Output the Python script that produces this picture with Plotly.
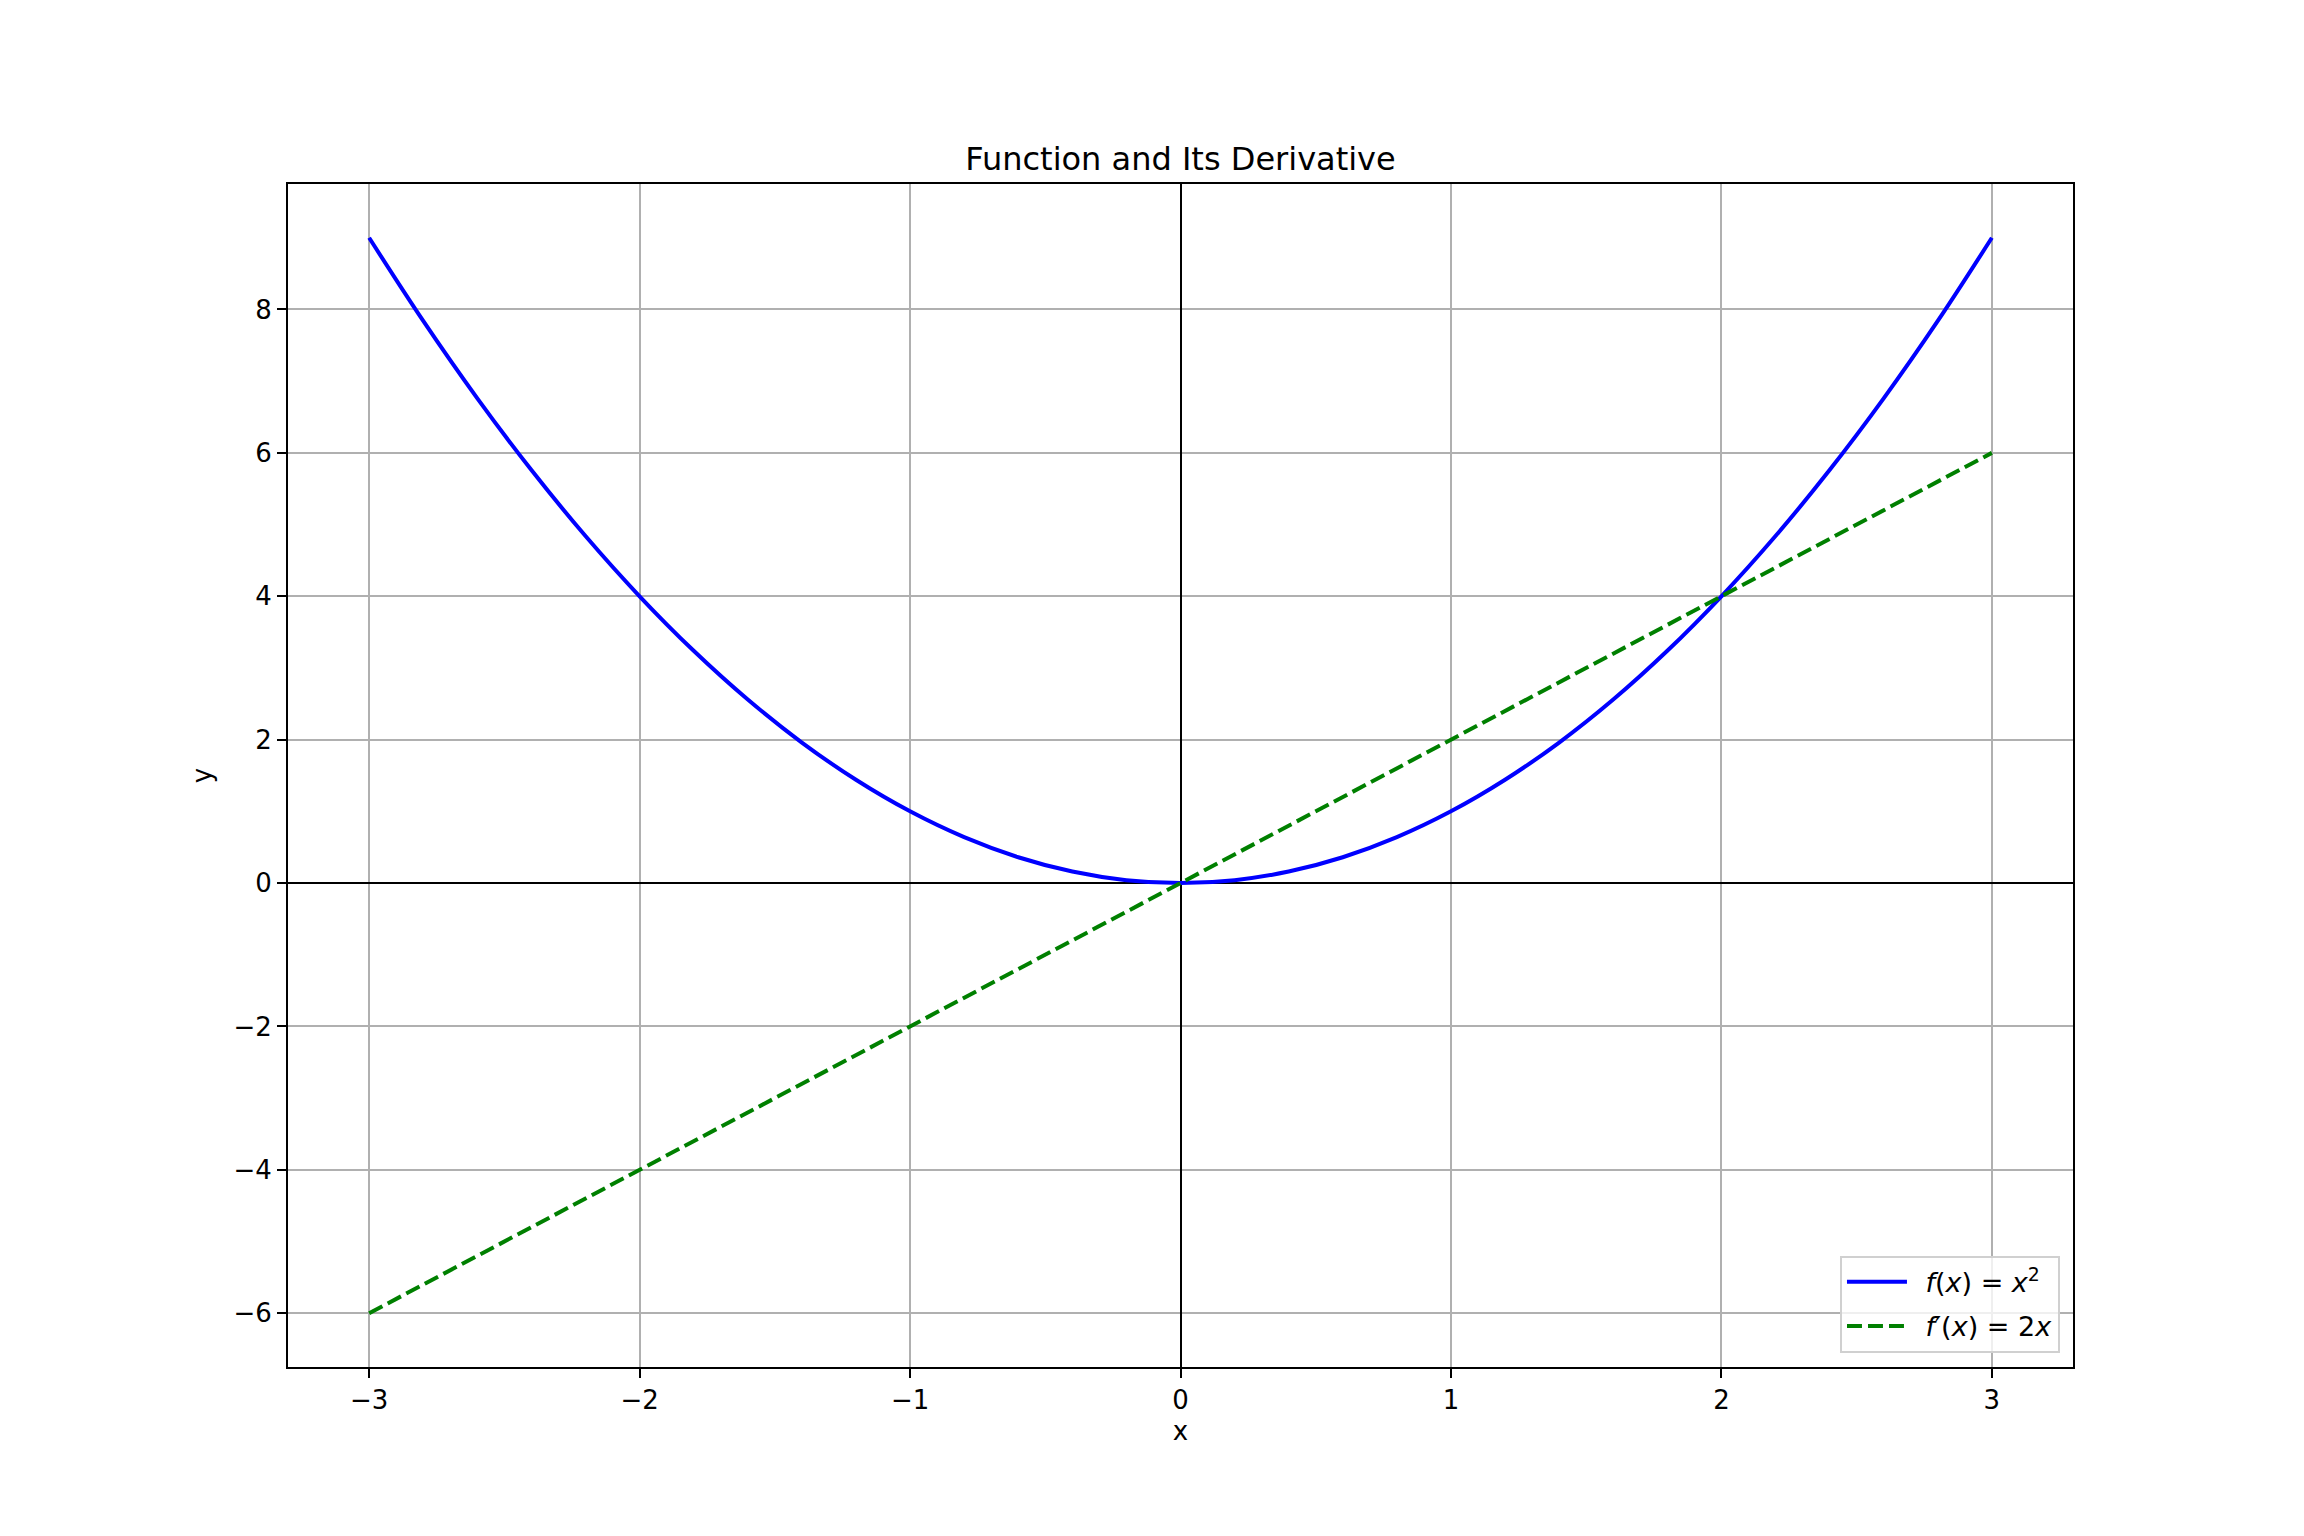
import plotly.graph_objects as go

# Values
x_curve = [-3.0, -2.8, -2.6, -2.4, -2.2, -2.0, -1.8, -1.6, -1.4, -1.2, -1.0, -0.8, -0.6, -0.4, -0.2,
           0.0, 0.2, 0.4, 0.6, 0.8, 1.0, 1.2, 1.4, 1.6, 1.8, 2.0, 2.2, 2.4, 2.6, 2.8, 3.0]
f_values = [9.0, 7.84, 6.76, 5.76, 4.84, 4.0, 3.24, 2.56, 1.96, 1.44, 1.0, 0.64, 0.36, 0.16, 0.04,
            0.0, 0.04, 0.16, 0.36, 0.64, 1.0, 1.44, 1.96, 2.56, 3.24, 4.0, 4.84, 5.76, 6.76, 7.84, 9.0]
x_line = [-3.0, 3.0]
df_values = [-6.0, 6.0]

x_ticks = [-3, -2, -1, 0, 1, 2, 3]
y_ticks = [-6, -4, -2, 0, 2, 4, 6, 8]

title_text = "Function and Its Derivative"
name_f = "\u2002<i>f</i>(<i>x</i>) = <i>x</i><sup>2</sup>"
name_df = "\u2002<i>f</i>′(<i>x</i>) = 2<i>x</i>"

FONT = "DejaVu Sans"

fig = go.Figure()
fig.add_trace(go.Scatter(x=x_curve, y=f_values, mode="lines", name=name_f, legendgroup="f",
                         line=dict(color="#0000ff", width=4, shape="spline", smoothing=1.0)))
fig.add_trace(go.Scatter(x=x_line, y=df_values, mode="lines", name=name_df, legendgroup="df",
                         line=dict(color="#008000", width=4, dash="15px,6px")))

axis_common = dict(
    showline=True, mirror=True, linecolor="black", linewidth=2,
    ticks="outside", ticklen=9, tickwidth=2, tickcolor="black",
    showgrid=True, gridcolor="#b0b0b0", gridwidth=2,
    zeroline=True, zerolinecolor="black", zerolinewidth=2,
    tickfont=dict(family=FONT, size=26, color="black"),
)

# page body has an 8px margin, so the figure is offset by 8px
fig.update_layout(
    width=2296, height=1528,
    margin=dict(l=280, r=231, t=176, b=169),
    paper_bgcolor="white", plot_bgcolor="white",
    font=dict(family=FONT, size=26, color="black"),
    title=dict(text=title_text, x=0.5, xanchor="center", xref="paper",
               y=1, yref="paper", yanchor="bottom", pad=dict(b=14),
               font=dict(family=FONT, size=32, color="black")),
    xaxis=dict(range=[-3.3, 3.3], tickvals=x_ticks,
               title=dict(text="x", font=dict(family=FONT, size=26), standoff=8),
               **axis_common),
    yaxis=dict(range=[-6.75, 9.75], tickvals=y_ticks,
               title=dict(text="y", font=dict(family=FONT, size=26), standoff=14),
               **axis_common),
    legend=dict(x=0.9927, y=0.012, xanchor="right", yanchor="bottom",
                bgcolor="rgba(255,255,255,0.8)", bordercolor="#d0d0d0", borderwidth=2,
                font=dict(family=FONT, size=27, color="black"),
                itemwidth=60, tracegroupgap=6),
    showlegend=True,
)

fig.write_html("out.html")
